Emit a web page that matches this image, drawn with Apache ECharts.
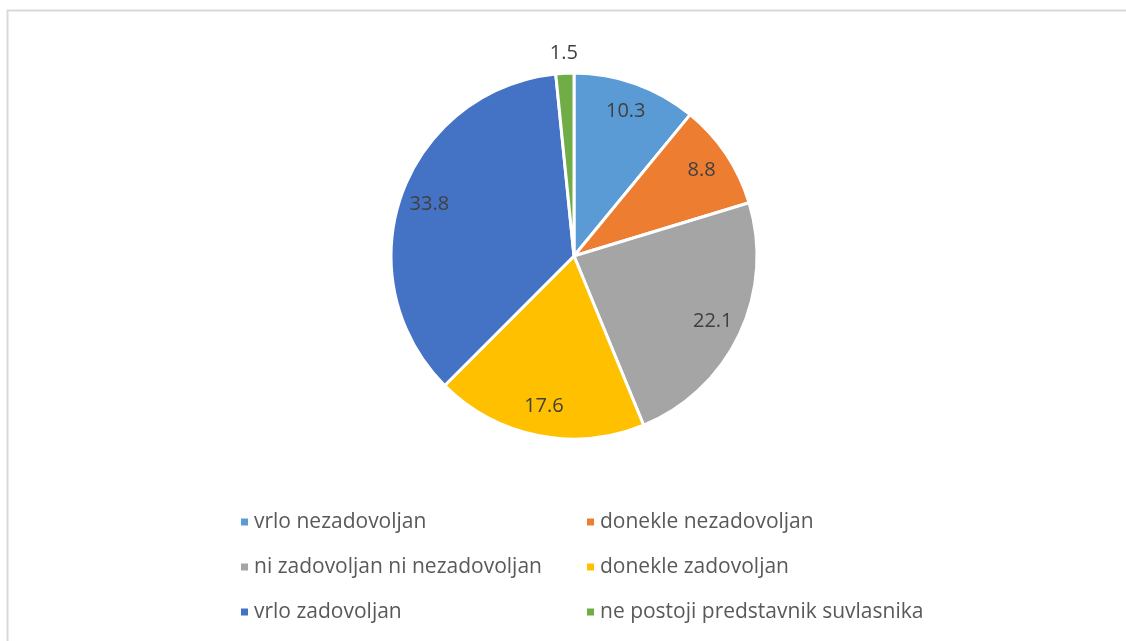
<!DOCTYPE html>
<html>
<head>
<meta charset="utf-8">
<script src="https://cdn.jsdelivr.net/npm/echarts@6/dist/echarts.min.js"></script>
<style>
  html, body { margin: 0; padding: 0; background: #fff; }
  #chart { width: 1126px; height: 641px; }
</style>
</head>
<body>
<div id="chart"></div>
<script>
const categories = [
  'vrlo nezadovoljan',
  'donekle nezadovoljan',
  'ni zadovoljan ni nezadovoljan',
  'donekle zadovoljan',
  'vrlo zadovoljan',
  'ne postoji predstavnik suvlasnika'
]
const values = [10.3, 8.8, 22.1, 17.6, 33.8, 1.5]
const colors = ['#5B9BD5', '#ED7D31', '#A5A5A5', '#FFC000', '#4472C4', '#70AD47']
// slices whose label sits outside the pie
const outsideLabels = ['ne postoji predstavnik suvlasnika']

const font = '"Open Sans", "DejaVu Sans", sans-serif'
const center = [574, 256]

const pieData = categories.map((name, i) => ({
  name,
  value: values[i],
  itemStyle: { color: colors[i] }
}))

// transparent rings used only to place the value labels
const ringData = (showOutside) => categories.map((name, i) => ({
  name,
  value: values[i],
  label: { show: outsideLabels.includes(name) === showOutside }
}))

const ringStyle = {
  type: 'pie',
  center,
  startAngle: 90,
  silent: true,
  legendHoverLink: false,
  itemStyle: { color: 'rgba(0,0,0,0)' },
  emphasis: { disabled: true },
  labelLine: { show: false },
  label: {
    position: 'inside',
    formatter: p => p.value.toFixed(1),
    color: '#404040',
    fontFamily: font,
    fontSize: 20
  }
}

const chart = echarts.init(document.getElementById('chart'))
chart.setOption({
  animation: false,
  backgroundColor: '#fff',
  graphic: [{
    type: 'rect',
    shape: { x: 7.5, y: 10.5, width: 1200, height: 700 },
    style: { fill: 'none', stroke: '#d9d9d9', lineWidth: 2 },
    silent: true
  }],
  legend: {
    data: categories,
    left: 239,
    top: 510,
    width: 720,
    padding: 0,
    itemGap: 21,
    itemWidth: 9,
    itemHeight: 9,
    icon: 'rect',
    textStyle: {
      width: 310,
      lineHeight: 24,
      color: '#595959',
      fontFamily: font,
      fontSize: 21
    }
  },
  series: [
    {
      type: 'pie',
      center,
      radius: 183,
      startAngle: 90,
      data: pieData,
      label: { show: false },
      labelLine: { show: false },
      itemStyle: { borderColor: '#fff', borderWidth: 3 },
      emphasis: { scale: false }
    },
    Object.assign({}, ringStyle, { radius: [118, 183], data: ringData(false) }),
    Object.assign({}, ringStyle, { radius: [188, 212], data: ringData(true) })
  ]
})
</script>
</body>
</html>
